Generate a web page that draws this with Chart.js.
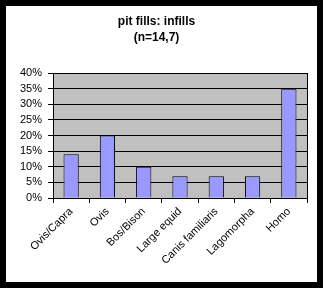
<!DOCTYPE html>
<html>
<head>
<meta charset="utf-8">
<script src="https://cdn.jsdelivr.net/npm/chart.js@4"></script>
<style>
  html, body { margin: 0; padding: 0; background: #000; }
  #wrap { position: absolute; left: 6px; top: 6px; width: 311px; height: 276px; background: #fff; }
</style>
</head>
<body>
<div id="wrap"><canvas id="chart"></canvas></div>
<script>
// data
const categories = ['Ovis/Capra', 'Ovis', 'Bos/Bison', 'Large equid', 'Canis familiaris', 'Lagomorpha', 'Homo'];
const percents = [14, 20, 10, 7, 7, 7, 35];
const titleLines = ['pit fills: infills', '(n=14,7)'];

// grey plot area with a black frame, like the old Excel charts
const plotArea = {
  id: 'plotArea',
  beforeDraw(chart) {
    const { ctx, chartArea: a } = chart;
    ctx.save();
    ctx.fillStyle = '#c0c0c0';
    ctx.fillRect(a.left, a.top, a.right - a.left, a.bottom - a.top);
    ctx.restore();
  },
  afterDraw(chart) {
    const { ctx, chartArea: a } = chart;
    ctx.save();
    ctx.strokeStyle = '#000';
    ctx.lineWidth = 1;
    ctx.strokeRect(Math.round(a.left) + 0.5, Math.round(a.top) + 0.5, Math.round(a.right - a.left), Math.round(a.bottom - a.top));
    ctx.restore();
  }
};

let ctx = document.getElementById('chart').getContext('2d');
let chart = new Chart(ctx, {
  type: 'bar',
  data: {
    labels: categories,
    datasets: [{
      data: percents,
      backgroundColor: '#9999ff',
      borderColor: '#000',
      borderWidth: 1,
      categoryPercentage: 1,
      barPercentage: 0.42
    }]
  },
  options: {
    responsive: true,
    maintainAspectRatio: false,
    animation: false,
    layout: { padding: { left: 0, right: 10, top: 0, bottom: 0 } },
    plugins: {
      legend: { display: false },
      tooltip: { enabled: false },
      title: {
        display: true,
        text: titleLines,
        color: '#000',
        font: { family: 'Liberation Sans', size: 12, weight: 'bold', lineHeight: 1.34 },
        padding: { top: 8, bottom: 27 }
      }
    },
    scales: {
      x: {
        offset: true,
        grid: { offset: true, drawOnChartArea: false, drawTicks: true, tickLength: 5, color: '#000' },
        border: { color: '#000' },
        ticks: {
          color: '#000',
          font: { family: 'Liberation Sans', size: 11 },
          maxRotation: 45,
          minRotation: 45,
          autoSkip: false,
          padding: 2
        },
        afterFit(scale) { scale.height = 84; }
      },
      y: {
        min: 0,
        max: 40,
        grid: { color: '#000', tickLength: 5 },
        border: { color: '#000' },
        ticks: {
          stepSize: 5,
          autoSkip: false,
          color: '#000',
          padding: 6,
          font: { family: 'Liberation Sans', size: 11 },
          callback: (v) => v + '%'
        },
        afterFit(scale) { scale.width = 47; }
      }
    }
  },
  plugins: [plotArea]
});
</script>
</body>
</html>
